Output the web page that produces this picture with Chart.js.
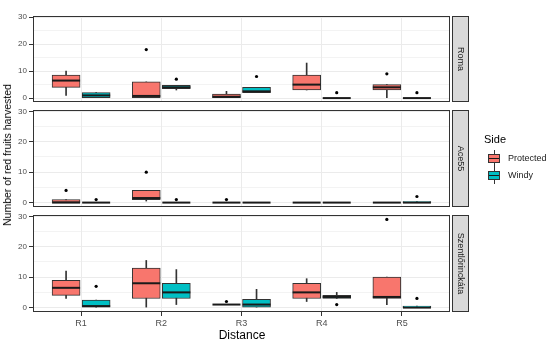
<!DOCTYPE html>
<html>
<head>
<meta charset="utf-8">
<script src="https://cdn.jsdelivr.net/npm/chart.js@4.4.0/dist/chart.umd.min.js"></script>
<style>
body { margin: 0; background: #fff; font-family: 'Liberation Sans', Arial, sans-serif; }
#wrap { position: relative; width: 550px; height: 343px; overflow: hidden; }
#wrap canvas { position: absolute; left: 0; top: 0; }
.txt { position: absolute; white-space: nowrap; color: #000; }
#ytitle { left: 7px; top: 155px; font-size: 10.5px; transform: translate(-50%, -50%) rotate(-90deg); }
#xtitle { left: 242px; top: 335px; font-size: 12px; transform: translate(-50%, -50%); }
#legtitle { left: 484px; top: 133px; font-size: 11px; }
.key { position: absolute; left: 488px; width: 12px; height: 17px; }
.key .wh { position: absolute; left: 5.5px; top: 0; width: 1px; height: 17px; background: #333; }
.key .bx { position: absolute; left: 0; top: 4px; width: 10px; height: 7px; border: 1px solid #333; }
.key .md { position: absolute; left: 0; top: 3px; width: 10px; height: 1px; background: #1a1a1a; }
.leglab { position: absolute; left: 508px; font-size: 9px; color: #1a1a1a; }
</style>
</head>
<body>
<div id="wrap">
  <canvas id="p0" width="550" height="343"></canvas>
  <canvas id="p1" width="550" height="343"></canvas>
  <canvas id="p2" width="550" height="343"></canvas>
  <div class="txt" id="ytitle">Number of red fruits harvested</div>
  <div class="txt" id="xtitle">Distance</div>
  <div class="txt" id="legtitle">Side</div>
  <div class="key" style="top:150px"><div class="wh"></div><div class="bx" style="background:#F8766D"><div class="md"></div></div></div>
  <div class="leglab" style="top:153px">Protected</div>
  <div class="key" style="top:167px"><div class="wh"></div><div class="bx" style="background:#00BFC4"><div class="md"></div></div></div>
  <div class="leglab" style="top:170px">Windy</div>
</div>
<script>
const distances = ['R1', 'R2', 'R3', 'R4', 'R5'];
const sites = ['Roma', 'Ace55', 'Szentlőrinckáta'];
const sides = ['Protected', 'Windy'];
const sideColors = ['#F8766D', '#00BFC4'];
const yTicks = [0, 5, 10, 15, 20, 25, 30];

// [lower whisker, q1, median, q3, upper whisker] for R1..R5
const romaProtected = [[1, 4, 6.5, 8.5, 10], [0, 0, 0.8, 6, 6], [0, 0, 0.5, 1.5, 2.5], [3, 3, 5, 8.5, 13], [0, 3, 4, 5, 5]];
const romaWindy = [[0, 0, 1, 2, 2], [3, 3.5, 4, 4.7, 4.7], [2, 2, 2.5, 4, 4], [0, 0, 0, 0, 0], [0, 0, 0, 0, 0]];
const aceProtected = [[0, 0, 0, 1, 1], [0.5, 1, 1.5, 4, 4], [0, 0, 0, 0, 0], [0, 0, 0, 0, 0], [0, 0, 0, 0, 0]];
const aceWindy = [[0, 0, 0, 0, 0], [0, 0, 0, 0, 0], [0, 0, 0, 0, 0], [0, 0, 0, 0, 0], [0, 0, 0, 0.3, 0.3]];
const szProtected = [[3, 4, 6.5, 9, 12], [0, 3, 8, 13, 15.5], [1, 1, 1, 1, 1], [2, 3, 5, 8, 9.5], [1, 3, 3.5, 10, 10]];
const szWindy = [[0, 0, 0.5, 2.5, 2.5], [1, 3, 5, 8, 12.5], [0, 0, 1, 2.7, 6], [3, 3, 3.5, 4, 5], [0, 0, 0, 0.5, 0.5]];

// outliers: [distance number, value]
const romaOutProtected = [[2, 18], [5, 9]];
const romaOutWindy = [[2, 7], [3, 8], [4, 2], [5, 2]];
const aceOutProtected = [[1, 4], [2, 10], [3, 1]];
const aceOutWindy = [[1, 1], [2, 1], [5, 2]];
const szOutProtected = [[3, 2], [5, 29]];
const szOutWindy = [[1, 7], [4, 1], [5, 3]];

const panelStats = [[romaProtected, romaWindy], [aceProtected, aceWindy], [szProtected, szWindy]];
const panelOutliers = [[romaOutProtected, romaOutWindy], [aceOutProtected, aceOutWindy], [szOutProtected, szOutWindy]];
const panelTops = [5, 110, 215];
const panelH = 97;
const dodge = 0.1875;

function sideDatasets(stats, outliers, s) {
    const off = s === 0 ? -dodge : dodge;
    return [
        {
            type: 'bar', label: sides[s] + ' whisker',
            data: stats.map((v, i) => ({ x: i + 1 + off, y: [v[0], v[4]] })),
            backgroundColor: '#333333', barThickness: 1, grouped: false, order: 3
        },
        {
            type: 'bar', label: sides[s],
            data: stats.map((v, i) => ({ x: i + 1 + off, y: [v[1], v[3]] })),
            backgroundColor: sideColors[s], borderColor: '#333333', borderWidth: 1,
            borderSkipped: false, barThickness: 28, grouped: false, order: 2
        },
        {
            type: 'scatter', label: sides[s] + ' median',
            data: stats.map((v, i) => ({ x: i + 1 + off, y: v[2] })),
            pointStyle: 'line', pointRadius: 14, borderColor: '#1a1a1a', borderWidth: 2, order: 1
        },
        {
            type: 'scatter', label: sides[s] + ' outliers',
            data: outliers.map(o => ({ x: o[0] + off, y: o[1] })),
            pointStyle: 'circle', pointRadius: 1.6, backgroundColor: '#000', borderColor: '#000', borderWidth: 0, order: 0
        }
    ];
}

const panelFrame = {
    id: 'panelFrame',
    afterDraw(chart, args, opts) {
        const { ctx, chartArea } = chart;
        const a = chartArea;
        ctx.save();
        ctx.strokeStyle = '#333333';
        ctx.lineWidth = 1;
        ctx.strokeRect(a.left + 0.5, a.top + 0.5, a.right - a.left - 1, a.bottom - a.top - 1);
        const sx = a.right + 2;
        ctx.fillStyle = '#D9D9D9';
        ctx.fillRect(sx, a.top, 17, a.bottom - a.top);
        ctx.strokeRect(sx + 0.5, a.top + 0.5, 16, a.bottom - a.top - 1);
        ctx.translate(sx + 8.5, (a.top + a.bottom) / 2);
        ctx.rotate(Math.PI / 2);
        ctx.fillStyle = '#1a1a1a';
        ctx.font = "9px 'Liberation Sans', Arial, sans-serif";
        ctx.textAlign = 'center';
        ctx.textBaseline = 'middle';
        ctx.fillText(opts.label, 0, 0);
        ctx.restore();
    }
};

sites.forEach((site, p) => {
    const bottom = p === sites.length - 1;
    const xh = bottom ? 20 : 0;
    const datasets = [
        ...sideDatasets(panelStats[p][0], panelOutliers[p][0], 0),
        ...sideDatasets(panelStats[p][1], panelOutliers[p][1], 1)
    ];
    new Chart(document.getElementById('p' + p), {
        type: 'bar',
        data: { datasets: datasets },
        options: {
            responsive: false,
            animation: false,
            events: [],
            layout: { padding: { left: 0, right: 100, top: panelTops[p], bottom: 343 - panelTops[p] - panelH - xh } },
            plugins: {
                legend: { display: false },
                tooltip: { enabled: false },
                panelFrame: { label: site }
            },
            scales: {
                x: {
                    type: 'linear', min: 0.4, max: 5.6, offset: false,
                    afterBuildTicks: a => { a.ticks = distances.map((d, i) => ({ value: i + 1 })); },
                    afterFit: a => { a.height = xh; },
                    ticks: {
                        display: bottom, autoSkip: false, maxRotation: 0, padding: 2,
                        color: '#4D4D4D', font: { size: 9, family: "'Liberation Sans', Arial, sans-serif" },
                        callback: v => distances[v - 1]
                    },
                    grid: { color: '#EBEBEB', offset: false, drawTicks: bottom, tickLength: 4, tickColor: '#333333' },
                    border: { display: false }
                },
                y: {
                    type: 'linear', min: -1.45, max: 30.45,
                    afterBuildTicks: a => { a.ticks = yTicks.map(v => ({ value: v })); },
                    afterFit: a => { a.width = 33; },
                    ticks: {
                        padding: 2, color: '#4D4D4D', font: { size: 8, family: "'Liberation Sans', Arial, sans-serif" },
                        callback: v => (v % 10 === 0 ? v : '')
                    },
                    grid: {
                        color: '#EBEBEB',
                        lineWidth: c => (c.tick && c.tick.value % 10 === 0 ? 1 : 0.6),
                        tickLength: 4,
                        tickColor: c => (c.tick && c.tick.value % 10 === 0 ? '#333333' : 'rgba(0,0,0,0)')
                    },
                    border: { display: false }
                }
            }
        },
        plugins: [panelFrame]
    });
});
</script>
</body>
</html>
